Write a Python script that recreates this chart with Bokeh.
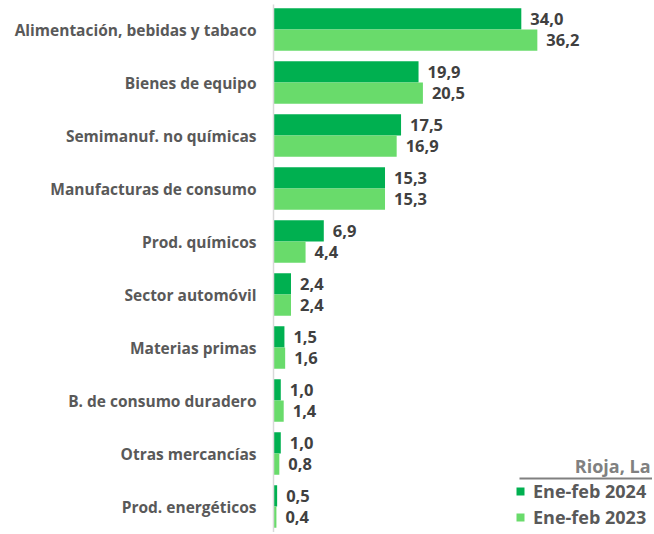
from bokeh.plotting import figure
from bokeh.models import ColumnDataSource, Range1d, FixedTicker, Legend, LegendItem, Label, BoxAnnotation
from bokeh.core.properties import value
from bokeh.embed import file_html
from bokeh.resources import INLINE

categories = ["Alimentación, bebidas y tabaco", "Bienes de equipo", "Semimanuf. no químicas",
              "Manufacturas de consumo", "Prod. químicos", "Sector automóvil", "Materias primas",
              "B. de consumo duradero", "Otras mercancías", "Prod. energéticos"]
values_2024 = [34.0, 19.9, 17.5, 15.3, 6.9, 2.4, 1.5, 1.0, 1.0, 0.5]
values_2023 = [36.2, 20.5, 16.9, 15.3, 4.4, 2.4, 1.6, 1.4, 0.8, 0.4]
series_names = ["Ene-feb 2024", "Ene-feb 2023"]
region = "Rioja, La"

DARK = "#00B050"
LIGHT = "#69DB6B"
FONT = "Open Sans"

idx = list(range(len(categories)))
bar_h = 0.4

def fmt(v):
    return f"{v:.1f}".replace(".", ",")

src24 = ColumnDataSource(dict(y=[i - bar_h / 2 for i in idx], v=values_2024, lab=[fmt(v) for v in values_2024]))
src23 = ColumnDataSource(dict(y=[i + bar_h / 2 for i in idx], v=values_2023, lab=[fmt(v) for v in values_2023]))

p = figure(width=652, height=532, output_backend="svg", toolbar_location=None,
           x_range=Range1d(0, 52.0), y_range=Range1d(9.49, -0.472),
           min_border_left=273, min_border_right=0, min_border_top=4, min_border_bottom=0)
p.outline_line_color = None
p.grid.visible = False
p.xaxis.visible = False

r24 = p.hbar(y="y", right="v", left=0, height=bar_h, source=src24, fill_color=DARK, line_color=None)
r23 = p.hbar(y="y", right="v", left=0, height=bar_h, source=src23, fill_color=LIGHT, line_color=None)

for s in (src24, src23):
    p.text(x="v", y="y", text="lab", source=s, x_offset=9, text_baseline="middle", text_align="left",
           text_font=value(FONT), text_font_style="bold", text_font_size="16.5px", text_color="#404040")

ya = p.yaxis[0]
ya.ticker = FixedTicker(ticks=idx)
ya.major_label_overrides = {i: c for i, c in zip(idx, categories)}
ya.major_tick_line_color = None
ya.minor_tick_line_color = None
ya.axis_line_color = "#D9D9D9"
ya.axis_line_width = 1.5
ya.major_label_standoff = 11
ya.major_label_text_font = FONT
ya.major_label_text_font_style = "bold"
ya.major_label_text_font_size = "15.5px"
ya.major_label_text_color = "#595959"

legend = Legend(items=[LegendItem(label=series_names[0], renderers=[r24]),
                       LegendItem(label=series_names[1], renderers=[r23])],
                location=(242, 3), orientation="vertical",
                glyph_width=10, glyph_height=10, label_height=18, spacing=2, padding=0, margin=0,
                label_standoff=8, label_text_font=FONT, label_text_font_style="bold",
                label_text_font_size="18px", label_text_color="#595959",
                border_line_color=None, background_fill_alpha=0)
p.add_layout(legend, "center")

p.add_layout(Label(x=377, y=67, x_units="screen", y_units="screen", text=region,
                   text_align="right", text_baseline="middle", text_font=FONT, text_font_style="bold",
                   text_font_size="18px", text_color="#808080"))
p.add_layout(BoxAnnotation(left=246, right=379, top=55, bottom=53, left_units="screen", right_units="screen",
                           top_units="screen", bottom_units="screen", fill_color="#808080", fill_alpha=1,
                           line_color=None))

open("out.html", "w").write(file_html(p, INLINE))
